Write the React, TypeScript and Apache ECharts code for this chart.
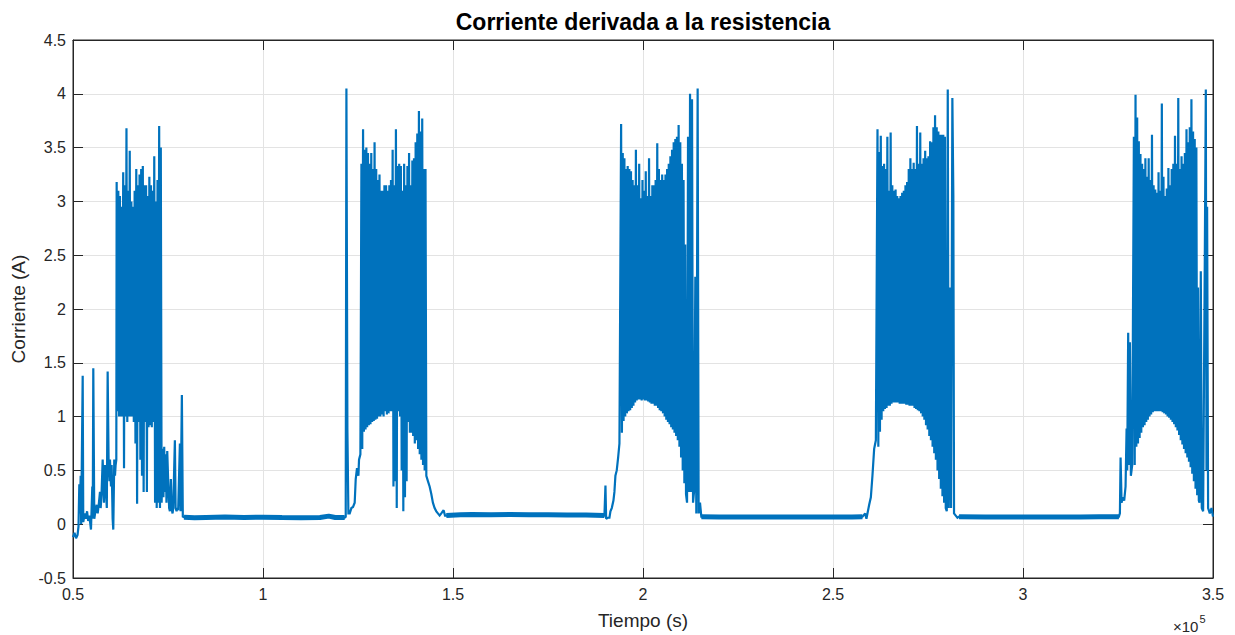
import React, { useEffect, useRef } from "react";
import * as echarts from "echarts";

type Pt = [number, number];

// Time axis in units of 10^5 s, current in A
const xTicks = { min: 0.5, max: 3.5, step: 0.5 };
const yTicks = { min: -0.5, max: 4.5, step: 0.5 };

// ---- sparse sections: [time (x1e5 s), current (A)] ----
const pre1: Pt[] = [
  [0.5, -0.12], [0.504, -0.08], [0.508, -0.13], [0.512, -0.1], [0.5145, -0.02], [0.5166, 0.37],
  [0.518, 0.1], [0.5202, 0.45], [0.5215, 0.0], [0.5255, 1.38], [0.527, 0.02], [0.531, 0.1],
  [0.534, 0.05], [0.537, 0.12], [0.54, 0.03], [0.543, 0.08], [0.5473, -0.05], [0.5508, 0.35],
  [0.552, 0.05], [0.5534, 1.45], [0.556, 0.05], [0.559, 0.12], [0.5623, 0.18], [0.565, 0.1],
  [0.5683, 0.2], [0.571, 0.3], [0.5728, 0.15], [0.575, 0.27], [0.5781, 0.6], [0.5815, 0.2],
  [0.5841, 0.55], [0.5868, 0.3], [0.589, 0.15], [0.5912, 1.42], [0.5938, 0.55], [0.596, 0.4],
  [0.5973, 0.6], [0.6, 0.35], [0.6017, 0.55], [0.6043, 0.05], [0.606, -0.05], [0.6086, 0.6],
  [0.6105, 0.45], [0.6122, 0.55], [0.614, 0.6],
];
const post1: Pt[] = [
  [0.7345, 0.2], [0.736, 0.7], [0.738, 0.25], [0.74, 0.72], [0.742, 0.3], [0.744, 0.65],
  [0.746, 0.2], [0.748, 0.68], [0.7505, 0.4], [0.753, 0.15], [0.755, 0.12], [0.7575, 0.42],
  [0.7595, 0.15], [0.762, 0.1], [0.7637, 0.15], [0.7681, 0.78], [0.77, 0.15], [0.7726, 0.12],
  [0.775, 0.15], [0.7768, 0.13], [0.7813, 0.75], [0.7831, 0.12], [0.7865, 1.2], [0.789, 0.07],
];
const flat1: Pt[] = [
  [0.792, 0.065], [0.82, 0.06], [0.85, 0.063], [0.9, 0.066], [0.95, 0.062], [1.0, 0.065],
  [1.05, 0.062], [1.1, 0.06], [1.15, 0.063], [1.173, 0.075], [1.19, 0.062], [1.215, 0.062],
];
const pre2: Pt[] = [
  [1.2177, 0.07], [1.2195, 4.05], [1.2221, 0.88], [1.2247, 0.1], [1.2282, 0.1], [1.2326, 0.15],
  [1.2369, 0.16], [1.2413, 0.2], [1.244, 0.42], [1.2474, 0.52], [1.2511, 0.45], [1.2527, 0.6],
  [1.2563, 0.65],
];
const post2: Pt[] = [
  [1.434, 0.4], [1.4385, 0.35], [1.4429, 0.28], [1.4471, 0.2], [1.4516, 0.15], [1.4561, 0.12],
  [1.4603, 0.1], [1.4648, 0.08], [1.4692, 0.1], [1.4753, 0.13], [1.479, 0.08],
];
const flat2: Pt[] = [
  [1.4824, 0.08], [1.52, 0.088], [1.55, 0.09], [1.6, 0.088], [1.65, 0.09], [1.7, 0.087],
  [1.75, 0.088], [1.8, 0.085], [1.85, 0.085], [1.8985, 0.08],
];
const pre3: Pt[] = [
  [1.9012, 0.36], [1.903, 0.05], [1.9072, 0.06], [1.9117, 0.06], [1.9143, 0.12], [1.9178, 0.15],
  [1.9222, 0.22], [1.9248, 0.3], [1.9274, 0.45], [1.9309, 0.5], [1.9346, 0.62], [1.938, 0.75],
];
const post3: Pt[] = [
  [2.1159, 0.2], [2.1185, 3.6], [2.1212, 0.3], [2.1238, 4.0], [2.1264, 0.3], [2.129, 3.95],
  [2.1317, 0.2], [2.1343, 0.3], [2.1377, 2.3], [2.1403, 0.1], [2.1438, 4.05], [2.1464, 0.1],
  [2.15, 0.2],
];
const flat3: Pt[] = [
  [2.1535, 0.07], [2.2, 0.068], [2.25, 0.066], [2.3, 0.068], [2.35, 0.068], [2.4, 0.066],
  [2.45, 0.068], [2.5, 0.068], [2.55, 0.066], [2.5775, 0.07],
];
const pre4: Pt[] = [
  [2.5846, 0.1], [2.588, 0.05], [2.5918, 0.12], [2.5952, 0.18], [2.5996, 0.25], [2.6038, 0.45],
  [2.6083, 0.7], [2.6128, 0.78],
];
const post4: Pt[] = [
  [2.7994, 0.12], [2.802, 4.04], [2.8045, 0.15], [2.808, 2.2], [2.8106, 0.15], [2.8141, 3.96],
  [2.8167, 3.05], [2.8185, 0.1], [2.823, 0.08], [2.8275, 0.06],
];
const flat4: Pt[] = [
  [2.8317, 0.07], [2.9, 0.068], [2.95, 0.066], [3.0, 0.068], [3.05, 0.068], [3.1, 0.066],
  [3.15, 0.068], [3.2, 0.07], [3.2524, 0.07],
];
const pre5: Pt[] = [
  [3.255, 0.1], [3.2568, 0.62], [3.2594, 0.2], [3.2629, 0.25], [3.2663, 0.22], [3.2699, 0.35],
  [3.2726, 0.89], [3.2742, 0.5], [3.2768, 1.78], [3.2787, 0.55], [3.2813, 1.69], [3.2839, 0.45],
  [3.2874, 0.55],
];
const post5: Pt[] = [
  [3.4645, 0.2], [3.4679, 2.35], [3.4705, 0.15], [3.474, 0.12], [3.4785, 2.5], [3.4811, 4.04],
  [3.4829, 0.5], [3.4845, 2.95], [3.4871, 0.15], [3.4916, 0.1], [3.4961, 0.15], [3.4995, 0.08],
  [3.5, 0.07],
];

// ---- dense switching bursts: peak / valley samples, evenly spaced in time ----
const burst1Span: Pt = [0.6149, 0.7332];
const burst1Hi = [3.18, 3.1, 3.05, 2.95, 3.27, 3.15, 3.68, 3.1, 3.47, 3.0, 2.95, 3.1, 3.3, 3.15, 3.25, 3.3, 3.33, 3.15, 3.15, 3.05, 3.23, 3.15, 3.1, 3.42, 3.0, 3.2, 3.7, 3.5];
const burst1Lo = [1.05, 1.0, 1.0, 1.0, 0.52, 1.0, 0.95, 1.0, 1.0, 1.0, 0.95, 0.75, 0.19, 0.95, 0.6, 0.45, 0.3, 0.95, 0.3, 0.9, 0.92, 0.9, 0.95, 0.2, 0.15, 0.2, 0.15, 0.2];

const burst2Span: Pt = [1.259, 1.4298];
const burst2Hi = [3.35, 3.67, 3.48, 3.5, 3.45, 3.35, 3.45, 3.3, 3.55, 3.3, 3.2, 3.25, 3.1, 3.1, 3.15, 3.15, 3.1, 3.15, 3.2, 3.48, 3.15, 3.67, 3.33, 3.35, 3.33, 3.1, 3.35, 3.15, 3.33, 3.45, 3.15, 3.38, 3.4, 3.55, 3.63, 3.84, 3.65, 3.77, 3.3, 3.3];
const burst2Lo = [0.7, 0.86, 0.88, 0.9, 0.92, 0.93, 0.95, 0.96, 0.97, 0.98, 1.0, 1.0, 1.02, 1.0, 1.05, 1.02, 1.03, 1.05, 1.05, 0.35, 0.4, 0.15, 1.05, 1.0, 0.5, 0.12, 0.25, 0.4, 0.95, 0.85, 0.85, 0.82, 0.75, 0.78, 0.7, 0.65, 0.6, 0.55, 0.5, 0.45];

const burst3Span: Pt = [1.9424, 2.1132];
const burst3Hi = [3.72, 3.45, 3.4, 3.3, 3.33, 3.3, 3.28, 3.2, 3.15, 3.48, 3.15, 3.35, 3.03, 3.2, 3.1, 3.28, 3.05, 3.4, 3.05, 3.15, 3.15, 3.2, 3.54, 3.3, 3.2, 3.25, 3.2, 3.25, 3.3, 3.35, 3.42, 3.48, 3.55, 3.58, 3.6, 3.71, 3.55, 3.35, 3.2, 2.6];
const burst3Lo = [0.85, 0.96, 1.0, 1.03, 1.05, 1.06, 1.08, 1.1, 1.13, 1.15, 1.16, 1.16, 1.15, 1.16, 1.15, 1.15, 1.14, 1.13, 1.12, 1.12, 1.1, 1.1, 1.08, 1.06, 1.05, 1.03, 1.0, 0.97, 0.95, 0.93, 0.9, 0.88, 0.85, 0.82, 0.78, 0.72, 0.62, 0.5, 0.38, 0.28];

const burst4Span: Pt = [2.6171, 2.7967];
const burst4Hi = [3.67, 3.46, 3.61, 3.33, 3.35, 3.3, 3.6, 3.1, 3.64, 3.15, 3.1, 3.11, 3.05, 3.03, 3.05, 3.08, 3.1, 3.15, 3.18, 3.3, 3.4, 3.3, 3.36, 3.3, 3.7, 3.35, 3.64, 3.35, 3.4, 3.47, 3.4, 3.42, 3.56, 3.55, 3.69, 3.8, 3.69, 3.65, 3.62, 3.62, 3.62, 3.6];
const burst4Lo = [0.72, 0.86, 0.97, 1.05, 1.07, 1.08, 1.1, 1.1, 1.12, 1.13, 1.13, 1.13, 1.13, 1.12, 1.12, 1.12, 1.12, 1.11, 1.11, 1.1, 1.1, 1.1, 1.08, 1.07, 1.06, 1.05, 1.03, 1.0, 0.97, 0.92, 0.88, 0.82, 0.78, 0.72, 0.66, 0.6, 0.5, 0.42, 0.33, 0.26, 0.2, 0.15];

const burst5Span: Pt = [3.2918, 3.4627];
const burst5Hi = [3.6, 3.99, 3.78, 3.56, 3.44, 3.35, 3.3, 3.4, 3.23, 3.4, 3.2, 3.62, 3.15, 3.11, 3.08, 3.27, 3.1, 3.91, 3.23, 3.05, 3.12, 3.31, 3.15, 3.3, 3.35, 3.61, 3.35, 3.96, 3.3, 3.42, 3.35, 3.45, 3.67, 3.55, 3.69, 3.95, 3.65, 3.58, 3.5, 2.2];
const burst5Lo = [0.55, 0.72, 0.75, 0.8, 0.85, 0.9, 0.92, 0.95, 0.97, 1.0, 1.02, 1.04, 1.05, 1.05, 1.05, 1.05, 1.05, 1.04, 1.03, 1.02, 1.0, 0.99, 0.97, 0.95, 0.93, 0.9, 0.87, 0.83, 0.78, 0.74, 0.7, 0.66, 0.62, 0.58, 0.53, 0.47, 0.4, 0.33, 0.27, 0.22];

// interleave peaks and valleys at evenly spaced sample times
function burst(span: Pt, hi: number[], lo: number[]): Pt[] {
  const n = Math.min(hi.length, lo.length);
  const total = 2 * n - 1;
  const out: Pt[] = [];
  for (let i = 0; i < n; i++) {
    out.push([span[0] + ((span[1] - span[0]) * (2 * i)) / total, hi[i]]);
    out.push([span[0] + ((span[1] - span[0]) * (2 * i + 1)) / total, lo[i]]);
  }
  return out;
}

const signal: Pt[] = [
  ...pre1, ...burst(burst1Span, burst1Hi, burst1Lo), ...post1, ...flat1,
  ...pre2, ...burst(burst2Span, burst2Hi, burst2Lo), ...post2, ...flat2,
  ...pre3, ...burst(burst3Span, burst3Hi, burst3Lo), ...post3, ...flat3,
  ...pre4, ...burst(burst4Span, burst4Hi, burst4Lo), ...post4, ...flat4,
  ...pre5, ...burst(burst5Span, burst5Hi, burst5Lo), ...post5,
];
const noiseBands: Pt[][] = [flat1, flat2, flat3, flat4];

const BLUE = "#0072BD";
const INK = "#262626";
const FONT = "Liberation Sans, Arial, Helvetica, sans-serif";

export default function App() {
  const ref = useRef<HTMLDivElement>(null);
  useEffect(() => {
    if (!ref.current) return;
    const chart = echarts.init(ref.current, null, { renderer: "svg" });
    const baseAxis = {
      type: "value" as const,
      axisLine: { show: true, onZero: false, lineStyle: { color: INK, width: 1 } },
      axisTick: { show: true, inside: true, length: 10, lineStyle: { color: INK, width: 1 } },
    };
    chart.setOption({
      animation: false,
      backgroundColor: "#ffffff",
      textStyle: { fontFamily: FONT },
      grid: { left: 73, right: 22, top: 40, bottom: 55, show: true, borderColor: INK, borderWidth: 1, backgroundColor: "#ffffff" },
      xAxis: [
        {
          ...baseAxis,
          position: "bottom",
          min: xTicks.min, max: xTicks.max, interval: xTicks.step,
          axisLabel: { fontSize: 16, color: INK, margin: 8, fontFamily: FONT, showMinLabel: true, showMaxLabel: true },
          splitLine: { show: true, lineStyle: { color: "#e3e3e3", width: 1 } },
          name: "Tiempo (s)", nameLocation: "middle", nameGap: 33,
          nameTextStyle: { fontSize: 19, color: INK, fontFamily: FONT },
        },
        {
          ...baseAxis,
          position: "top",
          min: xTicks.min, max: xTicks.max, interval: xTicks.step,
          axisLabel: { show: false }, splitLine: { show: false },
        },
      ],
      yAxis: [
        {
          ...baseAxis,
          position: "left",
          min: yTicks.min, max: yTicks.max, interval: yTicks.step,
          axisLabel: { fontSize: 16, color: INK, margin: 7, fontFamily: FONT, showMinLabel: true, showMaxLabel: true },
          splitLine: { show: true, lineStyle: { color: "#e3e3e3", width: 1 } },
          name: "Corriente (A)", nameLocation: "middle", nameGap: 41, nameRotate: 90,
          nameTextStyle: { fontSize: 19, color: INK, fontFamily: FONT },
        },
        {
          ...baseAxis,
          position: "right",
          min: yTicks.min, max: yTicks.max, interval: yTicks.step,
          axisLabel: { show: false }, splitLine: { show: false },
        },
      ],
      series: [
        {
          type: "line", name: "Corriente", data: signal, xAxisIndex: 0, yAxisIndex: 0,
          symbol: "none", showSymbol: false, silent: true,
          lineStyle: { color: BLUE, width: 2.2, join: "miter", miterLimit: 2 }, itemStyle: { color: BLUE }, z: 3,
        },
        ...noiseBands.map((band, i) => ({
          type: "line", name: "ruido" + i, data: band, xAxisIndex: 0, yAxisIndex: 0,
          symbol: "none", showSymbol: false, silent: true,
          lineStyle: { color: BLUE, width: 5 }, itemStyle: { color: BLUE }, z: 3,
        })),
      ],
      graphic: [
        {
          type: "text", x: 643, y: 22, z: 10,
          style: {
            text: "Corriente derivada a la resistencia", fontSize: 23, fontWeight: "bold",
            fontFamily: FONT, fill: "#000000", textAlign: "center", textVerticalAlign: "middle",
            align: "center", verticalAlign: "middle",
          },
        },
        {
          type: "text", x: 1173, y: 626, z: 10,
          style: { text: "×10", fontSize: 15, fontFamily: FONT, fill: INK, textVerticalAlign: "middle", verticalAlign: "middle" },
        },
        {
          type: "text", x: 1199.5, y: 619, z: 10,
          style: { text: "5", fontSize: 11, fontFamily: FONT, fill: INK, textVerticalAlign: "middle", verticalAlign: "middle" },
        },
      ],
    });
    return () => chart.dispose();
  }, []);
  return (
    <div
      ref={ref}
      style={{ position: "absolute", left: 0, top: 0, width: 1235, height: 635 }}
    />
  );
}
